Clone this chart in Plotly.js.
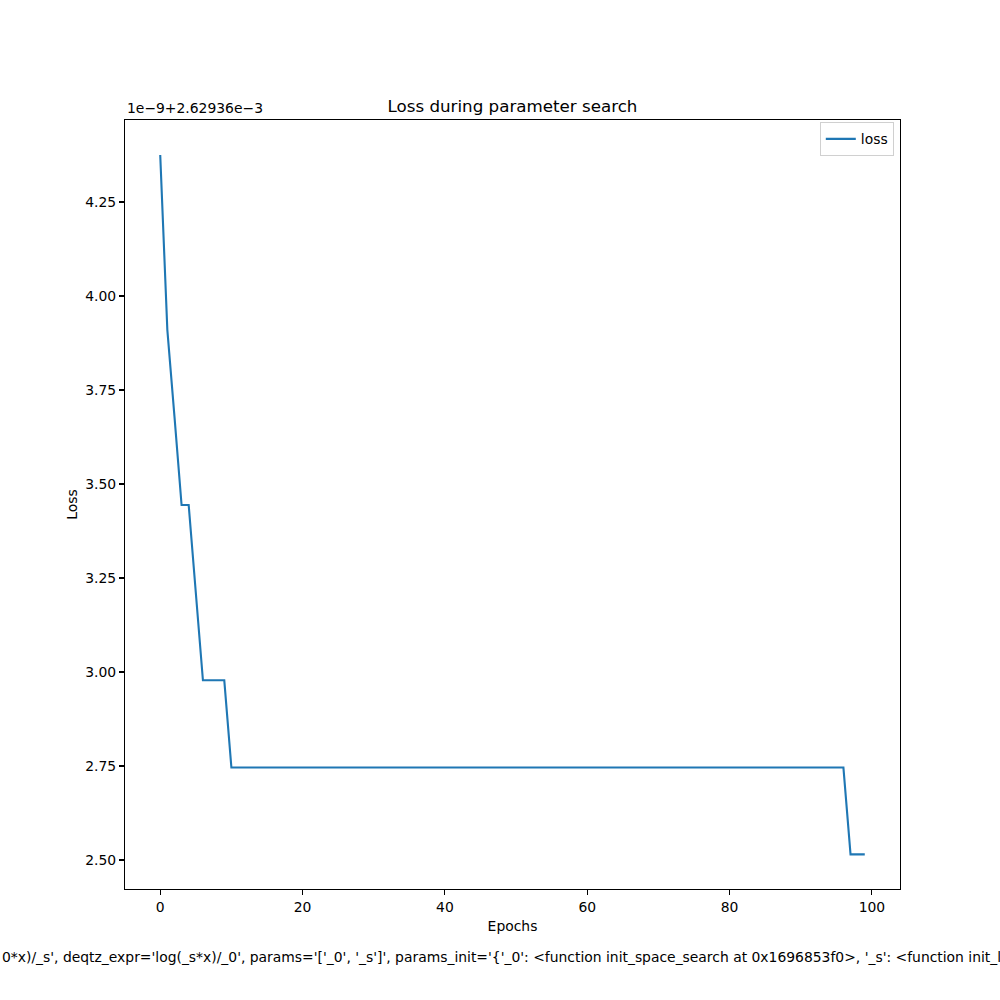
<!DOCTYPE html>
<html>
<head>
<meta charset="utf-8">
<script src="https://cdn.plot.ly/plotly-3.0.1.min.js"></script>
<style>html,body{margin:0;padding:0;background:#fff;}#chart{width:1000px;height:1000px;}</style>
</head>
<body>
<div id="chart"></div>
<script>
// Loss values shown as offset from 2.62936e-3, in units of 1e-9
const lossOffsetLabel = "1e\u22129+2.62936e\u22123";
const epochs = [0,1,2,3,4,5,6,7,8,9,10,11,12,13,14,15,16,17,18,19,20,21,22,23,24,25,26,27,28,29,30,31,32,33,34,35,36,37,38,39,40,41,42,43,44,45,46,47,48,49,50,51,52,53,54,55,56,57,58,59,60,61,62,63,64,65,66,67,68,69,70,71,72,73,74,75,76,77,78,79,80,81,82,83,84,85,86,87,88,89,90,91,92,93,94,95,96,97,98,99];
const loss = [4.375,3.910,3.680,3.444,3.444,3.210,2.978,2.978,2.978,2.978,
  2.746,2.746,2.746,2.746,2.746,2.746,2.746,2.746,2.746,2.746,
  2.746,2.746,2.746,2.746,2.746,2.746,2.746,2.746,2.746,2.746,
  2.746,2.746,2.746,2.746,2.746,2.746,2.746,2.746,2.746,2.746,
  2.746,2.746,2.746,2.746,2.746,2.746,2.746,2.746,2.746,2.746,
  2.746,2.746,2.746,2.746,2.746,2.746,2.746,2.746,2.746,2.746,
  2.746,2.746,2.746,2.746,2.746,2.746,2.746,2.746,2.746,2.746,
  2.746,2.746,2.746,2.746,2.746,2.746,2.746,2.746,2.746,2.746,
  2.746,2.746,2.746,2.746,2.746,2.746,2.746,2.746,2.746,2.746,
  2.746,2.746,2.746,2.746,2.746,2.746,2.746,2.515,2.515,2.515];
const xTicks = [0,20,40,60,80,100];
const yTicks = [2.50,2.75,3.00,3.25,3.50,3.75,4.00,4.25];
const seriesName = "loss";
const titleText = "Loss during parameter search";
const xTitle = "Epochs";
const yTitle = "Loss";
const footerText = "0*x)/_s', deqtz_expr='log(_s*x)/_0', params='['_0', '_s']', params_init='{'_0': <function init_space_search at 0x1696853f0>, '_s': <function init_l";

const FONT = "DejaVu Sans, sans-serif";
const trace = {
  x: epochs, y: loss, type: "scatter", mode: "lines", name: seriesName,
  line: {color: "#1f77b4", width: 2.1}, showlegend: true
};
const L = 125, R = 100, T = 120, B = 111;
const plotW = 1000 - L - R;
const layout = {
  width: 1000, height: 1000,
  margin: {l: L, r: R, t: T, b: B, pad: 0},
  paper_bgcolor: "#fff", plot_bgcolor: "#fff",
  font: {family: FONT, size: 13.9, color: "#000"},
  title: {text: titleText, font: {family: FONT, size: 16.7, color: "#000"}, x: 0.5125, xanchor: "center", y: 0.894, yanchor: "middle"},
  xaxis: {
    range: [-4.95, 103.95], tickvals: xTicks, ticktext: xTicks.map(String),
    ticks: "outside", ticklen: 5, tickwidth: 1.1, tickcolor: "#000",
    showgrid: false, zeroline: false, showline: true, mirror: true, linecolor: "#000", linewidth: 1.1,
    title: {text: xTitle, font: {family: FONT, size: 13.9}, standoff: 7},
    tickfont: {family: FONT, size: 13.9}
  },
  yaxis: {
    range: [2.423, 4.468], tickvals: yTicks, ticktext: yTicks.map(v => v.toFixed(2)),
    ticks: "outside", ticklen: 5, tickwidth: 1.1, tickcolor: "#000",
    showgrid: false, zeroline: false, showline: true, mirror: true, linecolor: "#000", linewidth: 1.1,
    title: {text: yTitle, font: {family: FONT, size: 13.9}, standoff: 4},
    tickfont: {family: FONT, size: 13.9}
  },
  legend: {x: 0.992, xanchor: "right", y: 0.997, yanchor: "top", bordercolor: "#d0d0d0", borderwidth: 1,
    bgcolor: "rgba(255,255,255,0.8)", font: {family: FONT, size: 13.9}, tracegroupgap: 0},
  annotations: [
    {text: lossOffsetLabel, xref: "paper", yref: "paper", x: 0, y: 1, xanchor: "left", yanchor: "bottom",
     yshift: 2, showarrow: false, font: {family: FONT, size: 13.9}},
    {text: footerText, xref: "paper", yref: "paper", x: -L / plotW, y: -0.088, xanchor: "left", yanchor: "middle",
     showarrow: false, font: {family: FONT, size: 13.9}}
  ]
};
Plotly.newPlot("chart", [trace], layout, {staticPlot: true, displayModeBar: false});
</script>
</body>
</html>
